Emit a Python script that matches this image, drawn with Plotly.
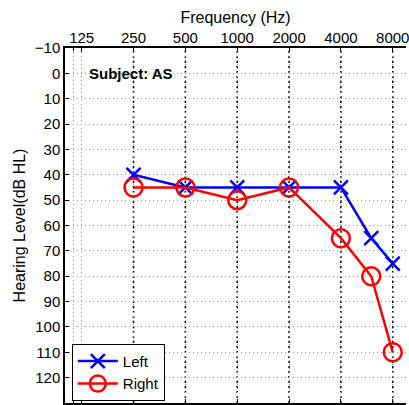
import numpy as np
import plotly.graph_objects as go

# Audiogram data (dB HL) at test frequencies (Hz)
freqs = [250, 500, 1000, 2000, 4000, 6000, 8000]
left_db = [40, 45, 45, 45, 45, 65, 75]
right_db = [45, 45, 50, 45, 65, 80, 110]

# Axis tick settings
octave_ticks = [125, 250, 500, 1000, 2000, 4000, 8000]
octave_labels = ["125", "250", "500", "1000", "2000", "4000", "8000"]
db_ticks = list(range(-10, 130, 10))
db_labels = ["\u221210"] + [str(v) for v in range(0, 130, 10)]

FONT = "Liberation Sans, Arial, Helvetica, sans-serif"

fig = go.Figure()

fig.add_trace(go.Scatter(
    x=freqs, y=left_db, mode="lines+markers", name="Left",
    line=dict(color="#0000ff", width=2.5),
    marker=dict(symbol="x-thin-open", size=14, color="#0000ff",
                line=dict(color="#0000ff", width=2.5)),
))
fig.add_trace(go.Scatter(
    x=freqs, y=right_db, mode="lines+markers", name="Right",
    line=dict(color="#ff0000", width=2.5),
    marker=dict(symbol="circle-open", size=18, color="#ff0000",
                line=dict(color="#ff0000", width=2.5)),
))

# Black dotted guide lines at each octave frequency from 250 Hz up
for f in octave_ticks[1:]:
    fig.add_shape(type="line", xref="x", yref="paper", x0=f, x1=f, y0=0, y1=1,
                  line=dict(color="black", width=1.5, dash="2px,3px"), layer="below")

fig.add_annotation(x=np.log10(134), y=0, xref="x", yref="y", text="<b>Subject: AS</b>",
                   showarrow=False, xanchor="left", yanchor="middle",
                   font=dict(family=FONT, size=15, color="black"))

fig.update_xaxes(
    type="log", range=[np.log10(100), np.log10(9550)], side="top",
    tickvals=octave_ticks, ticktext=octave_labels,
    ticks="inside", ticklen=4, tickcolor="black",
    ticklabeloverflow="allow", ticklabelstandoff=-3,
    showline=True, linecolor="black", linewidth=1.5, mirror="allticks",
    showgrid=True, gridcolor="#999999", griddash="1px,3px", gridwidth=1,
    minor=dict(tickvals=[112], showgrid=True, gridcolor="#999999",
               griddash="1px,3px", ticks="inside", ticklen=3, tickcolor="black"),
    tickfont=dict(family=FONT, size=15, color="black"),
    title=dict(text="Frequency (Hz)", font=dict(family=FONT, size=16, color="black"), standoff=2),
    zeroline=False,
)
fig.update_yaxes(
    range=[130, -10], tickvals=db_ticks, ticktext=db_labels,
    ticks="inside", ticklen=4, tickcolor="black",
    showline=True, linecolor="black", linewidth=1.5, mirror=False,
    showgrid=True, gridcolor="#999999", griddash="1px,3px", gridwidth=1,
    tickfont=dict(family=FONT, size=15, color="black"),
    title=dict(text="Hearing Level(dB HL)", font=dict(family=FONT, size=16, color="black"), standoff=5),
    zeroline=False,
)

fig.update_layout(
    width=409, height=405,
    margin=dict(l=65, r=0, t=48, b=1),
    paper_bgcolor="white", plot_bgcolor="white",
    font=dict(family=FONT, color="black"),
    showlegend=True,
    legend=dict(x=0.02, y=0.006, xanchor="left", yanchor="bottom",
                bgcolor="white", bordercolor="black", borderwidth=1,
                font=dict(family=FONT, size=15, color="black"),
                tracegroupgap=0, itemwidth=40),
)

fig.write_html("out.html")
